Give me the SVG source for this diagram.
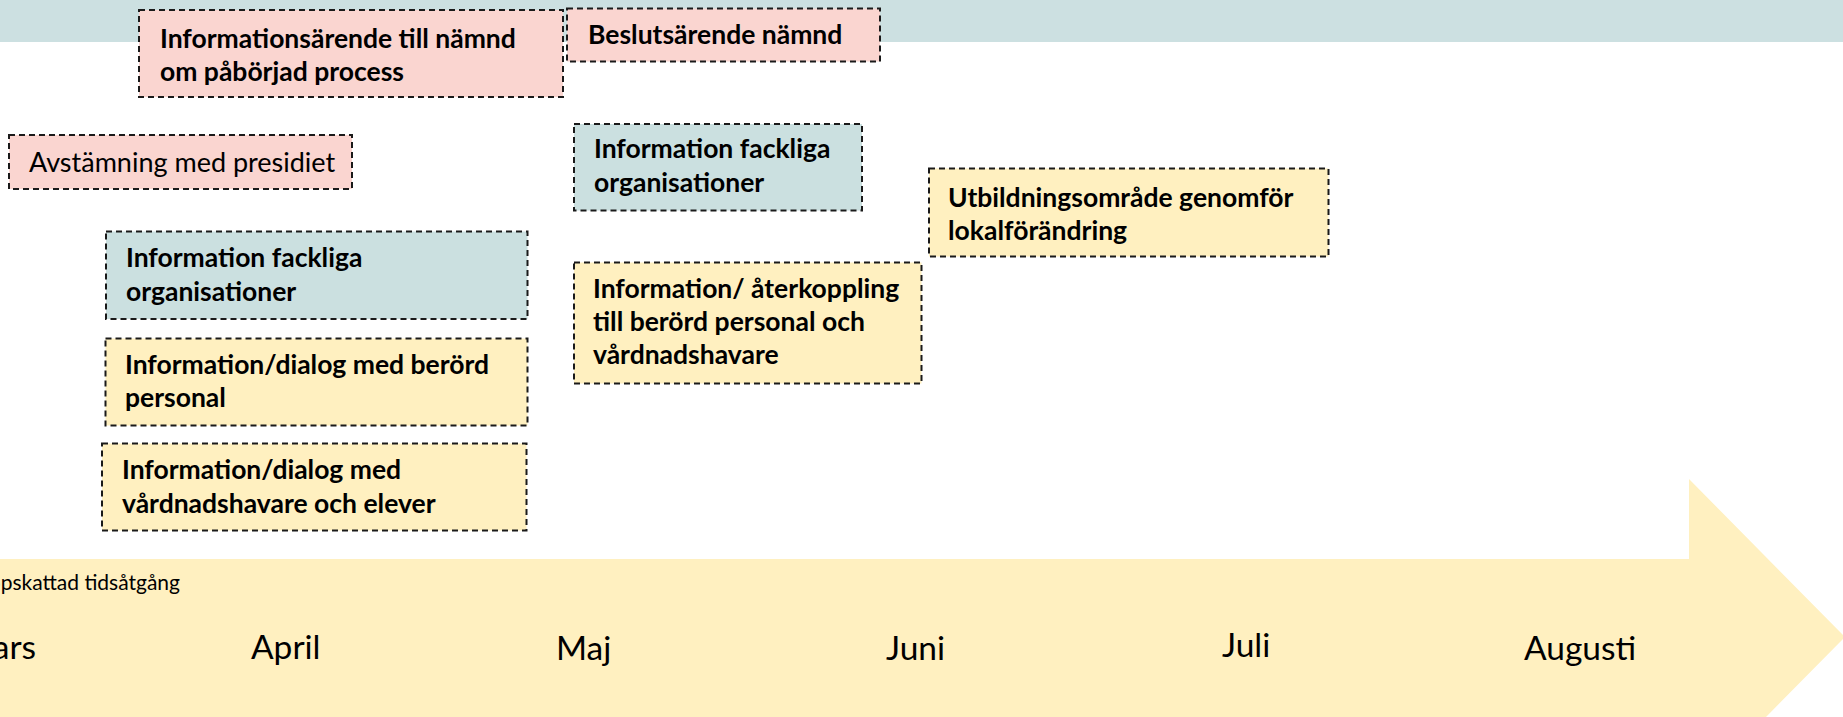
<svg xmlns="http://www.w3.org/2000/svg" width="1843" height="717" viewBox="0 0 1843 717">
<style>
.box{stroke:#1a1a1a;stroke-width:2;stroke-dasharray:6 4;}
.pink{fill:#FAD5D0;}
.teal{fill:#CBE0E0;}
.yel{fill:#FFF0C0;}
.b{font-family:Lato,"Liberation Sans",sans-serif;font-weight:bold;font-size:26.5px;fill:#000;}
.r{font-family:Lato,"Liberation Sans",sans-serif;font-weight:normal;fill:#000;}
.m{font-size:33.5px;}
</style>
<rect id="band" x="0" y="0" width="1843" height="42" fill="#CCE0E1"/>
<g id="timeline-arrow">
<path d="M-5,559 H1689 V479 L1845,637 L1689,795 H-5 Z" fill="#FFF0C0"/>
<text class="r" x="180" y="590" font-size="21" text-anchor="end">Uppskattad tidsåtgång</text>
<text class="r m" x="36" y="659" text-anchor="end">Mars</text>
<text class="r m" x="251" y="659">April</text>
<text class="r m" x="556" y="660">Maj</text>
<text class="r m" x="886" y="660">Juni</text>
<text class="r m" x="1222" y="657">Juli</text>
<text class="r m" x="1524" y="660">Augusti</text>
</g>
<g id="connectors"></g>
<g id="n-infoarende">
<rect class="box pink" x="139" y="10" width="424" height="87"/>
<text class="b" x="160" y="47.5">Informationsärende till nämnd</text>
<text class="b" x="160" y="81">om påbörjad process</text>
</g>
<g id="n-beslut">
<rect class="box pink" x="567" y="8.5" width="313" height="53"/>
<text class="b" x="588" y="43.5">Beslutsärende nämnd</text>
</g>
<g id="n-fack-right">
<rect class="box teal" x="574" y="124" width="288" height="86.5"/>
<text class="b" x="594" y="158">Information fackliga</text>
<text class="b" x="594" y="191.5">organisationer</text>
</g>
<g id="n-avstamning">
<rect class="box pink" x="9" y="135" width="343" height="54"/>
<text class="r" x="29" y="172" font-size="27">Avstämning med presidiet</text>
</g>
<g id="n-utbildning">
<rect class="box yel" x="929" y="168.5" width="399.5" height="88"/>
<text class="b" x="948" y="206.5">Utbildningsområde genomför</text>
<text class="b" x="948" y="239.5">lokalförändring</text>
</g>
<g id="n-fack-left">
<rect class="box teal" x="106" y="231.5" width="421.5" height="87.5"/>
<text class="b" x="126" y="267">Information fackliga</text>
<text class="b" x="126" y="300.5">organisationer</text>
</g>
<g id="n-aterkoppling">
<rect class="box yel" x="574" y="262.5" width="347.5" height="121"/>
<text class="b" x="593" y="297.5">Information/ återkoppling</text>
<text class="b" x="593" y="330.5">till berörd personal och</text>
<text class="b" x="593" y="363.5">vårdnadshavare</text>
</g>
<g id="n-berord">
<rect class="box yel" x="105.5" y="338.5" width="422" height="87"/>
<text class="b" x="125" y="374">Information/dialog med berörd</text>
<text class="b" x="125" y="407">personal</text>
</g>
<g id="n-vardnad">
<rect class="box yel" x="102" y="443.5" width="424.5" height="87"/>
<text class="b" x="122" y="479">Information/dialog med</text>
<text class="b" x="122" y="513">vårdnadshavare och elever</text>
</g>
</svg>
